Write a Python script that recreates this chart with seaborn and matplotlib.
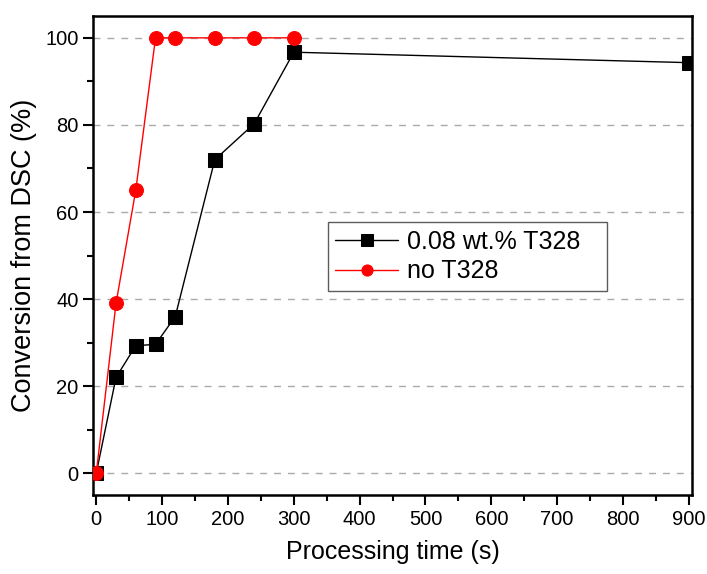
import matplotlib
matplotlib.use("Agg")
import matplotlib.pyplot as plt
import seaborn as sns
import numpy as np
from matplotlib.ticker import MultipleLocator

sns.set_style("ticks")
plt.rcParams['font.family'] = ['Liberation Sans', 'DejaVu Sans']
plt.rcParams['text.color'] = 'black'
plt.rcParams['axes.labelcolor'] = 'black'
plt.rcParams['xtick.color'] = 'black'
plt.rcParams['ytick.color'] = 'black'

time_t328 = [0, 30, 60, 90, 120, 180, 240, 300, 900]
conv_t328 = [0, 22, 29.3, 29.6, 36, 72, 80.3, 96.7, 94.3]
time_no = [0, 30, 60, 90, 120, 180, 240, 300]
conv_no = [0, 39, 65, 100, 100, 100, 100, 100]
labels = ["0.08 wt.% T328", "no T328"]

fig = plt.figure(figsize=(7.07, 5.74), dpi=100)
ax = fig.add_axes([0.1315, 0.1376, 0.979 - 0.1315, 0.972 - 0.1376])

for y in [0, 20, 40, 60, 80, 100]:
    ax.axhline(y, color='#aaaaaa', linestyle=(0, (5, 5)), linewidth=1, zorder=0)

sns.lineplot(x=time_t328, y=conv_t328, ax=ax, color='black', marker='s',
             markersize=10, markeredgecolor='black', linewidth=1,
             label=labels[0], zorder=3)
sns.lineplot(x=time_no, y=conv_no, ax=ax, color='red', marker='o',
             markersize=10, markeredgecolor='red', linewidth=1,
             label=labels[1], zorder=4)

ax.set_xlim(-5, 905)
ax.set_ylim(-5, 105)
ax.xaxis.set_major_locator(MultipleLocator(100))
ax.xaxis.set_minor_locator(MultipleLocator(50))
ax.yaxis.set_major_locator(MultipleLocator(20))
ax.yaxis.set_minor_locator(MultipleLocator(10))
ax.tick_params(which='major', direction='out', length=7, width=1.5, labelsize=14.5,
               color='black', labelcolor='black')
ax.tick_params(which='minor', direction='out', length=4, width=1.5, color='black')
for s in ax.spines.values():
    s.set_visible(True)
    s.set_linewidth(1.8)
    s.set_color('black')

ax.set_xlabel("Processing time (s)", fontsize=18, labelpad=8)
ax.set_ylabel("Conversion from DSC (%)", fontsize=19.5, labelpad=6)

leg = ax.legend(loc='lower left', bbox_to_anchor=(0.392, 0.426, 0.466, 0.146),
                mode='expand', borderaxespad=0, fontsize=18, frameon=True,
                fancybox=False, edgecolor='#333333', handlelength=2.5,
                borderpad=0.3, labelspacing=0.22, handletextpad=0.35)
leg.get_frame().set_linewidth(1)
leg._legend_box.align = "left"
for h in leg.legend_handles:
    h.set_markersize(8)

fig.savefig("out.png", dpi=100)
